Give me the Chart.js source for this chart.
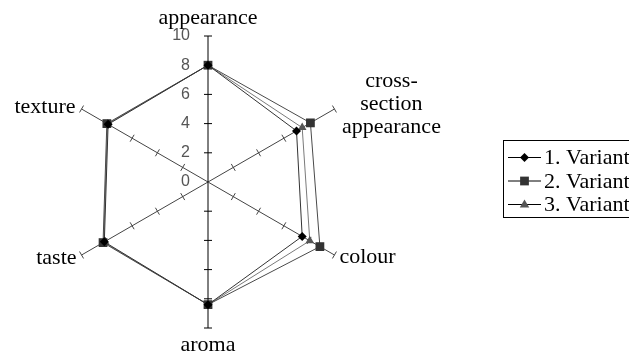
<!DOCTYPE html>
<html>
<head>
<meta charset="utf-8">
<script src="https://cdn.jsdelivr.net/npm/chart.js@4/dist/chart.umd.min.js"></script>
<style>
  html, body { margin: 0; padding: 0; background: #fff; }
  #wrap { width: 629px; height: 360px; position: relative; }
</style>
</head>
<body>
<div id="wrap"><canvas id="radarChart" width="629" height="360"></canvas></div>
<script>
const categories = ['appearance', ['cross-', 'section', 'appearance'], 'colour', 'aroma', 'taste', 'texture'];
const seriesNames = ['1. Variant', '2. Variant', '3. Variant'];
const variant1 = [8, 7.0, 7.45, 8.4, 8.2, 7.9];
const variant2 = [8, 8.1, 8.85, 8.4, 8.3, 8.0];
const variant3 = [8, 7.45, 8.05, 8.4, 8.25, 7.95];
const tickValues = [0, 2, 4, 6, 8, 10];

const lineColors = ['#333333', '#4a4a4a', '#7a7a7a'];
const markerColors = ['#000000', '#333333', '#555555'];
const markerStyles = ['rectRot', 'rect', 'triangle'];
const markerSizes = [4.5, 6.2, 5];

function drawMarker(ctx, style, x, y, r, color) {
    ctx.save();
    ctx.fillStyle = color;
    ctx.beginPath();
    if (style === 'rect') {
        const s = r * Math.SQRT1_2;
        ctx.rect(x - s, y - s, 2 * s, 2 * s);
    } else if (style === 'rectRot') {
        ctx.moveTo(x, y - r);
        ctx.lineTo(x + r, y);
        ctx.lineTo(x, y + r);
        ctx.lineTo(x - r, y);
        ctx.closePath();
    } else {
        ctx.moveTo(x, y - r);
        ctx.lineTo(x + r * 0.95, y + r * 0.6);
        ctx.lineTo(x - r * 0.95, y + r * 0.6);
        ctx.closePath();
    }
    ctx.fill();
    ctx.restore();
}

// tick marks on spokes, tick labels, point labels and legend
const extrasPlugin = {
    id: 'extras',
    beforeDatasetsDraw(chart) {
        const scale = chart.scales.r;
        const ctx = chart.ctx;
        const n = chart.data.labels.length;
        ctx.save();
        for (let i = 0; i < n; i++) {
            const a = scale.getIndexAngle(i) - Math.PI / 2;
            const px = -Math.sin(a), py = Math.cos(a);
            const vertical = (i === 0 || i === 3);
            ctx.strokeStyle = vertical ? '#000' : '#444';
            ctx.lineWidth = 1;
            tickValues.forEach(v => {
                if (v === 0) return;
                const p = scale.getPointPositionForValue(i, v);
                ctx.beginPath();
                ctx.moveTo(p.x - px * 4, p.y - py * 4);
                ctx.lineTo(p.x + px * 4, p.y + py * 4);
                ctx.stroke();
            });
        }
        // tick labels
        ctx.fillStyle = '#555';
        ctx.font = '16px "Liberation Sans", Arial, sans-serif';
        ctx.textAlign = 'right';
        ctx.textBaseline = 'middle';
        tickValues.forEach(v => {
            const p = scale.getPointPositionForValue(0, v);
            ctx.fillText(String(v), scale.xCenter - 18, p.y);
        });
        ctx.restore();
    },
    afterDraw(chart) {
        const scale = chart.scales.r;
        const ctx = chart.ctx;
        ctx.save();
        ctx.fillStyle = '#000';
        ctx.font = '22px "Liberation Serif", "Times New Roman", serif';
        ctx.textBaseline = 'middle';
        const offs = [
            {dx: 0, dy: -18, align: 'center'},
            {dx: 57, dy: -5, align: 'center'},
            {dx: 5, dy: 2, align: 'left'},
            {dx: 0, dy: 17, align: 'center'},
            {dx: -5, dy: 3, align: 'right'},
            {dx: -6, dy: -2, align: 'right'}
        ];
        chart.data.labels.forEach((lab, i) => {
            const p = scale.getPointPositionForValue(i, 10);
            const o = offs[i];
            ctx.textAlign = o.align;
            const lines = Array.isArray(lab) ? lab : [lab];
            const lh = 23;
            const y0 = p.y + o.dy - (lines.length - 1) * lh / 2;
            lines.forEach((t, k) => ctx.fillText(t, p.x + o.dx, y0 + k * lh));
        });

        // legend
        const bx = 503.5, by = 140.5, bw = 140, bh = 77;
        ctx.strokeStyle = '#000';
        ctx.lineWidth = 1;
        ctx.strokeRect(bx, by, bw, bh);
        ctx.font = '22px "Liberation Serif", "Times New Roman", serif';
        ctx.textAlign = 'left';
        chart.data.datasets.forEach((ds, i) => {
            const y = 157.5 + i * 23.5;
            ctx.strokeStyle = '#000';
            ctx.beginPath();
            ctx.moveTo(508, y);
            ctx.lineTo(541, y);
            ctx.stroke();
            drawMarker(ctx, markerStyles[i], 524.5, y, markerSizes[i], markerColors[i]);
            ctx.fillStyle = '#000';
            ctx.fillText(ds.label, 544, y + 1);
        });
        ctx.restore();
    }
};

const seriesData = [variant1, variant2, variant3];
const datasets = seriesNames.map((name, i) => ({
    label: name,
    data: seriesData[i],
    borderColor: lineColors[i],
    borderWidth: 1,
    backgroundColor: 'transparent',
    fill: false,
    pointStyle: markerStyles[i],
    pointRadius: markerSizes[i],
    pointBackgroundColor: markerColors[i],
    pointBorderColor: markerColors[i],
    pointBorderWidth: 0
}));

const ctx = document.getElementById('radarChart').getContext('2d');
new Chart(ctx, {
    type: 'radar',
    data: { labels: categories, datasets: datasets },
    options: {
        responsive: false,
        animation: false,
        layout: { padding: { left: 62, right: 274, top: 36, bottom: 31 } },
        plugins: { legend: { display: false }, tooltip: { enabled: false } },
        elements: { line: { tension: 0 } },
        scales: {
            r: {
                min: 0,
                max: 10,
                ticks: { display: false, stepSize: 2 },
                grid: { display: false },
                angleLines: {
                    display: true,
                    color: ctx2 => (ctx2.index === 0 || ctx2.index === 3) ? '#000' : '#444',
                    lineWidth: 1
                },
                pointLabels: { display: false }
            }
        }
    },
    plugins: [extrasPlugin]
});
</script>
</body>
</html>
